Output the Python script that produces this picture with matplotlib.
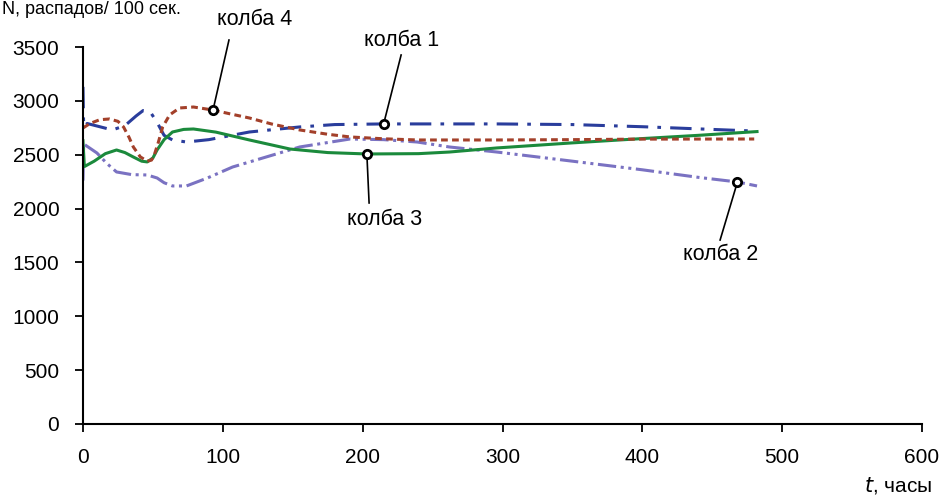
import matplotlib
matplotlib.use("Agg")
import matplotlib.pyplot as plt

plt.rcParams['font.family'] = ['Liberation Sans', 'DejaVu Sans']

# колба 1 (blue, dash-dot)
t1 = [0, 0.5, 3, 12, 21, 30, 38, 43, 48, 53, 58, 64, 74, 90, 119, 155, 180, 215, 260, 296, 350, 400, 440, 480]
n1 = [3130, 2760, 2790, 2760, 2730, 2770, 2860, 2910, 2900, 2800, 2680, 2637, 2618, 2640, 2711, 2758, 2780, 2786, 2786, 2786, 2780, 2760, 2740, 2720]

# колба 2 (purple, dash-dot-dot)
t2 = [0, 0.5, 10, 17, 24, 35, 46, 53, 58, 64, 74, 89, 107, 131, 155, 191, 215, 239, 262, 296, 350, 400, 440, 468, 482]
n2 = [2260, 2600, 2516, 2420, 2340, 2315, 2312, 2284, 2240, 2210, 2210, 2284, 2386, 2479, 2572, 2646, 2640, 2618, 2572, 2525, 2440, 2360, 2290, 2247, 2210]

# колба 3 (green, solid)
t3 = [0, 1, 8, 16, 24, 30, 36, 42, 46, 50, 53, 58, 64, 72, 79, 95, 119, 148, 175, 203, 240, 262, 296, 350, 400, 440, 482]
n3 = [2630, 2390, 2440, 2510, 2544, 2520, 2479, 2440, 2433, 2470, 2544, 2640, 2711, 2735, 2739, 2710, 2637, 2553, 2520, 2507, 2510, 2525, 2563, 2610, 2650, 2680, 2715]

# колба 4 (brown, dashed)
t4 = [0, 5, 12, 19, 25, 29, 33, 36, 41, 46, 49, 51, 54, 57, 62, 69, 79, 93, 105, 119, 135, 155, 175, 191, 215, 239, 270, 296, 350, 400, 480]
n4 = [2748, 2790, 2825, 2832, 2810, 2758, 2660, 2572, 2480, 2440, 2450, 2498, 2620, 2758, 2870, 2934, 2943, 2915, 2880, 2841, 2785, 2730, 2690, 2665, 2648, 2637, 2637, 2637, 2640, 2645, 2646]

labels = ['колба 1', 'колба 2', 'колба 3', 'колба 4']
marker_t = [215, 468, 203, 93]
marker_n = [2786, 2247, 2507, 2915]
leader_t = [227.5, 455.6, 204.6, 104.4]
leader_n = [3426, 1708, 2052, 3565]
label_t = [227.5, 456, 216, 123]
label_n = [3565, 1569, 1894, 3751]

xticks = [0, 100, 200, 300, 400, 500, 600]
yticks = [0, 500, 1000, 1500, 2000, 2500, 3000, 3500]

fig = plt.figure(figsize=(9.45, 4.96), dpi=100)
ax = fig.add_axes([0.0878, 0.1452, 0.8879, 0.7600])

ax.plot(t1, n1, color='#2a3d9c', lw=2.2, dashes=(7, 3, 1.2, 3))
ax.plot(t2, n2, color='#7a72c2', lw=2.2, dashes=(6, 1.5, 1, 1.5, 1, 1.5))
ax.plot(t3, n3, color='#1b8a3c', lw=2.2)
ax.plot(t4, n4, color='#a3402a', lw=2.2, dashes=(2.2, 1.4))

for i in range(4):
    ax.plot([marker_t[i], leader_t[i]], [marker_n[i], leader_n[i]], color='black', lw=1.2, clip_on=False, zorder=4)
    ax.plot(marker_t[i], marker_n[i], 'o', ms=6, mfc='white', mec='black', mew=2, clip_on=False, zorder=5)
    ax.text(label_t[i], label_n[i], labels[i], fontsize=15.5, ha='center', va='center', clip_on=False)

ax.set_xlim(0, 600)
ax.set_ylim(0, 3500)
ax.set_xticks(xticks)
ax.set_yticks(yticks)
ax.spines['top'].set_visible(False)
ax.spines['right'].set_visible(False)
for s in ['left', 'bottom']:
    ax.spines[s].set_linewidth(1.5)
ax.tick_params(axis='both', direction='out', length=6, width=1.3, labelsize=15, pad=11)

fig.text(932 / 945, 1 - 485 / 496, '$\\mathit{t}$, часы', ha='right', va='center', fontsize=15)
fig.text(2 / 945, 1 - 1 / 496, 'N, распадов/ 100 сек.', ha='left', va='top', fontsize=13)

fig.savefig('out.png', dpi=100)
